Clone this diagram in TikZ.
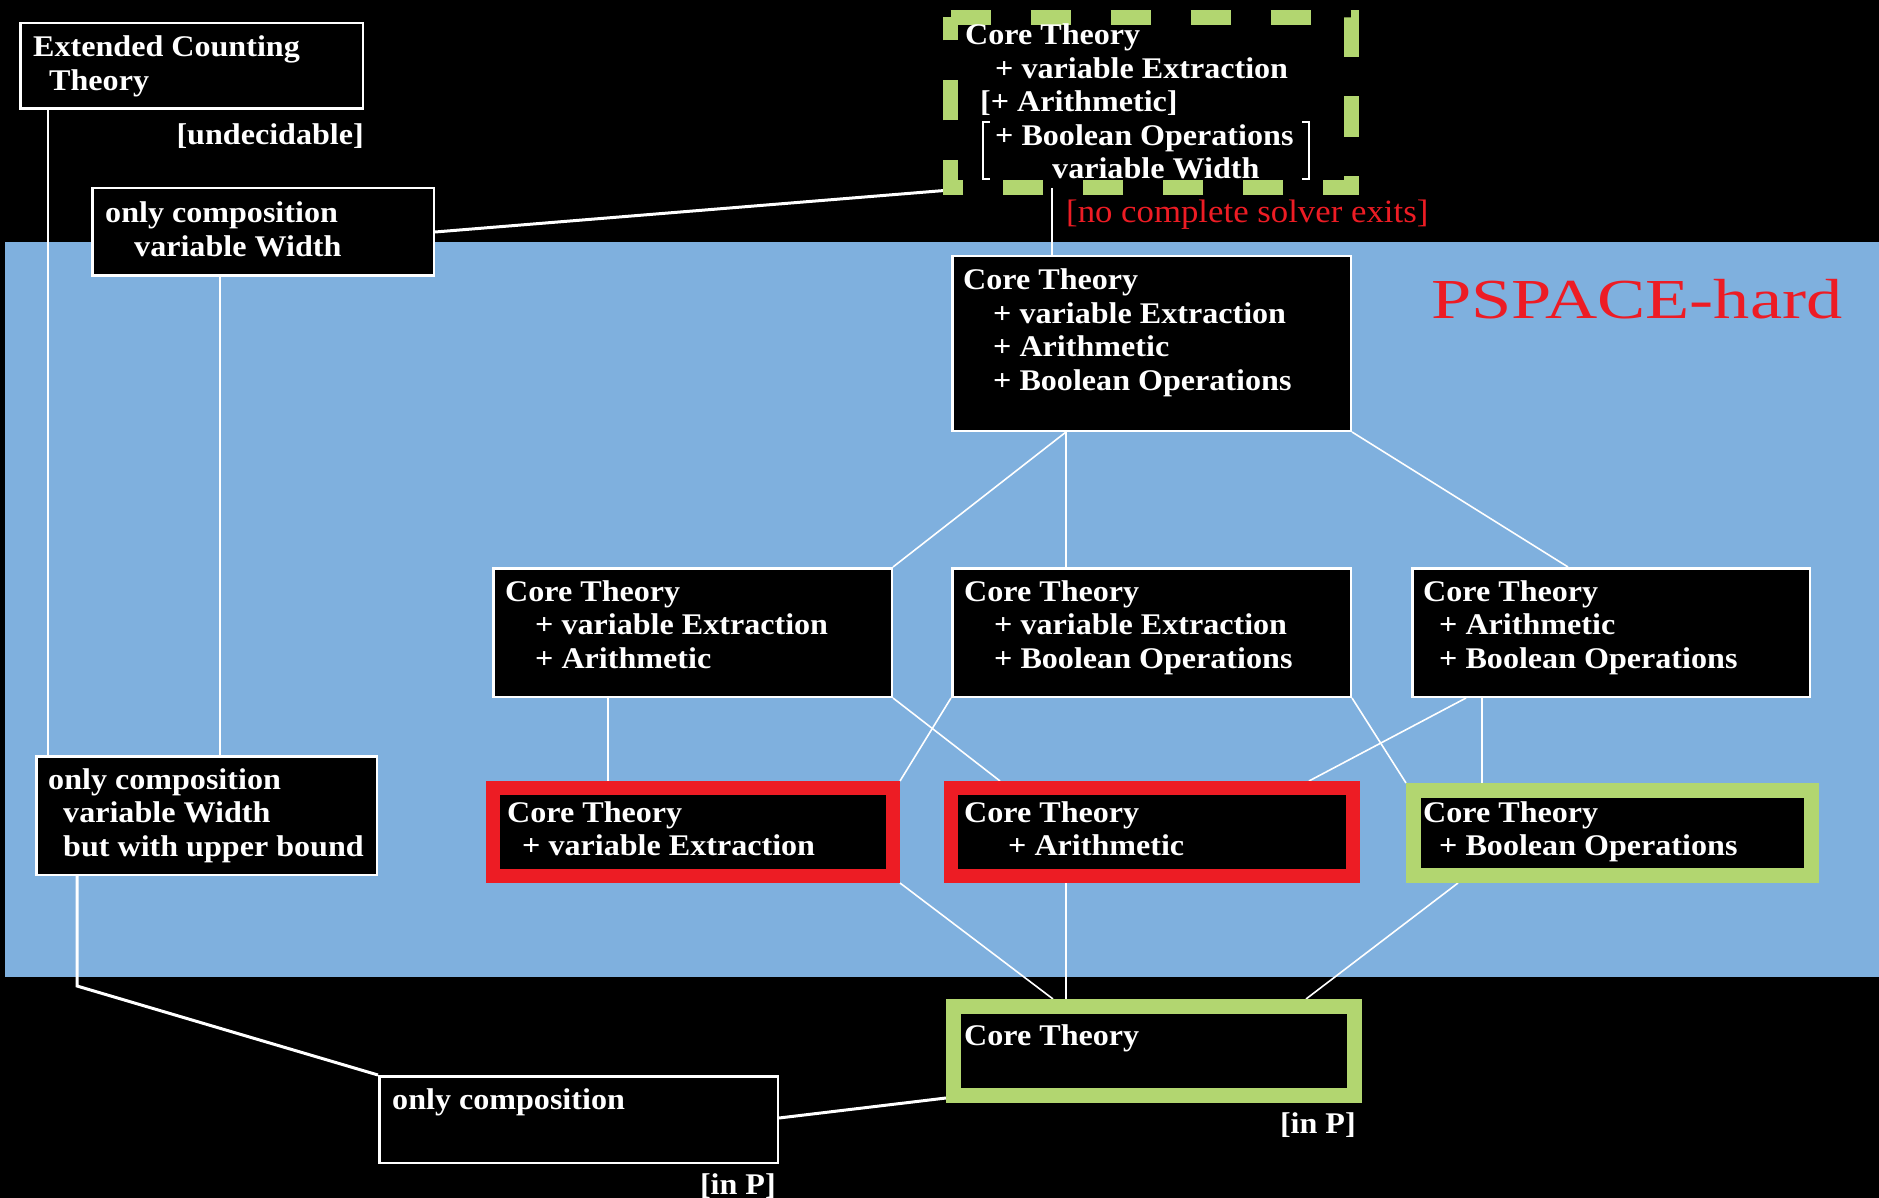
\documentclass[tikz,border=0pt]{standalone}
\usepackage{fontspec}
\setmainfont{Liberation Serif}[FakeStretch=1.07]
\newfontfamily\widefont{Liberation Serif}[FakeStretch=1.28]
\usetikzlibrary{calc}
\pgfdeclarelayer{bg}
\pgfsetlayers{bg,main}

\definecolor{hardblue}{RGB}{127,176,222}
\definecolor{boxred}{RGB}{237,28,36}
\definecolor{boxgreen}{RGB}{178,214,112}

% multi-line label whose reference point is the first baseline
\newcommand\stack[1]{\begin{tabular}[t]{@{}l@{}}#1\end{tabular}}
\newcommand\ind[1]{\hspace*{#1pt}}

\tikzset{
  plainbox/.style={rectangle, draw=white, line width=2.5pt, fill=black,
    anchor=north west, inner sep=0pt},
  redbox/.style={plainbox, draw=boxred, line width=14pt},
  greenbox/.style={plainbox, draw=boxgreen, line width=15pt},
  txt/.style={anchor=base west, inner sep=0pt, text=white,
    font=\bfseries\fontsize{30}{33.5}\selectfont},
  tag/.style={txt, anchor=base east},
  link/.style={draw=white, line width=1.6pt},
  heavylink/.style={draw=white, line width=3pt},
}

\begin{document}
\begin{tikzpicture}[x=1pt,y=-1pt]
\useasboundingbox (0,0) rectangle (1879,1198);

\begin{pgfonlayer}{bg}
  \fill[black] (0,0) rectangle (1879,1198);
  \fill[hardblue] (5,242) rectangle (1879,977);
\end{pgfonlayer}

\node[txt, text=boxred, font=\widefont\fontsize{56.5}{60}\selectfont] (hard) at (1431,319) {PSPACE-hard};

% undecidable part
\node[plainbox, minimum width=342.5pt, minimum height=85.5pt] (ect) at (19,22) {};
\node[txt] (ectT) at (33,57) {\stack{Extended Counting\\\ind{16}Theory}};
\node[tag] (undec) at (364,145) {[undecidable]};

\node[plainbox, minimum width=341.5pt, minimum height=87.5pt] (ocvw) at (91,187) {};
\node[txt] (ocvwT) at (105,223) {\stack{only composition\\\ind{29}variable Width}};

% full theory, dashed frame
\node[anchor=north west, minimum width=401pt, minimum height=170.5pt, inner sep=0pt, outer sep=0pt] (spec) at (950.5,17.5) {};
\draw[boxgreen, line width=15pt, dash pattern=on 40.5pt off 39.5pt]
  (spec.north west) -- (spec.north east) -- (spec.south east) -- (spec.south west) -- cycle;
\node[txt] (specT) at (965,45) {\stack{Core Theory\\\ind{30}+ variable Extraction\\\ind{15}[+ Arithmetic]\\\ind{30}+ Boolean Operations\\\ind{87}variable Width}};
\draw[white, line width=2.5pt] ([shift={(39.5,104.5)}]spec.north west) -- ++(-7,0) -- ++(0,57) -- ++(7,0);
\draw[white, line width=2.5pt] ([shift={(351.5,104.5)}]spec.north west) -- ++(7,0) -- ++(0,57) -- ++(-7,0);
\node[txt, font=\fontsize{32.5}{36}\selectfont, text=boxred] (nosolver) at (1066,223) {[no complete solver exits]};

% PSPACE-hard lattice
\node[plainbox, minimum width=398.5pt, minimum height=174.5pt] (top) at (951,255) {};
\node[txt] (topT) at (963,290) {\stack{Core Theory\\\ind{30}+ variable Extraction\\\ind{30}+ Arithmetic\\\ind{30}+ Boolean Operations}};

\node[plainbox, minimum width=398.5pt, minimum height=128.5pt] (A) at (492,567) {};
\node[txt] (AT) at (505,601) {\stack{Core Theory\\\ind{30}+ variable Extraction\\\ind{30}+ Arithmetic}};
\node[plainbox, minimum width=398.5pt, minimum height=128.5pt] (B) at (951,567) {};
\node[txt] (BT) at (964,601) {\stack{Core Theory\\\ind{30}+ variable Extraction\\\ind{30}+ Boolean Operations}};
\node[plainbox, minimum width=397.5pt, minimum height=128.5pt] (C) at (1411,567) {};
\node[txt] (CT) at (1423,601) {\stack{Core Theory\\\ind{16}+ Arithmetic\\\ind{16}+ Boolean Operations}};

\node[redbox, minimum width=400pt, minimum height=88pt] (D) at (486,781) {};
\node[txt] (DT) at (507,822) {\stack{Core Theory\\\ind{15}+ variable Extraction}};
\node[redbox, minimum width=402pt, minimum height=88pt] (E) at (944,781) {};
\node[txt] (ET) at (964,822) {\stack{Core Theory\\\ind{44}+ Arithmetic}};
\node[greenbox, minimum width=398pt, minimum height=85pt] (F) at (1406,783) {};
\node[txt] (FT) at (1423,822) {\stack{Core Theory\\\ind{16}+ Boolean Operations}};

\node[plainbox, minimum width=340.5pt, minimum height=118.5pt] (ocub) at (35,755) {};
\node[txt] (ocubT) at (48,789) {\stack{only composition\\\ind{15}variable Width\\\ind{15}but with upper bound}};

% polynomial part
\node[greenbox, minimum width=401pt, minimum height=89pt] (core) at (946,999) {};
\node[txt] (coreT) at (964,1045) {Core Theory};
\node[tag] (inP1) at (1356,1133) {[in P]};

\node[plainbox, minimum width=398.5pt, minimum height=86.5pt] (oc) at (378,1075) {};
\node[txt] (ocT) at (392,1109) {only composition};
\node[tag] (inP2) at (776,1194) {[in P]};

\coordinate (bend) at (77,986);

\begin{pgfonlayer}{bg}
  \draw[link] ([xshift=29pt]ect.south west) -- ([xshift=13pt]ocub.north west);
  \draw[link] ([xshift=129pt]ocvw.south west) -- ([xshift=185pt]ocub.north west);
  \draw[heavylink] (ocvw.east) -- ([yshift=-2pt]spec.south west);
  \draw[link] ([xshift=101.5pt]spec.south west) -- ([xshift=101pt]top.north west);
  \draw[heavylink] ([xshift=42pt]ocub.south west) -- (bend) -- (oc.north west);
  \draw[heavylink] ([yshift=1.5pt]oc.east) -- ([yshift=-47pt]core.west);

  \draw[link] ([xshift=115pt]top.south west) -- (A.north east);
  \draw[link] ([xshift=115pt]top.south west) -- ([xshift=115pt]B.north west);
  \draw[link] (top.south east) -- ([xshift=157pt]C.north west);

  \draw[link] ([xshift=116pt]A.south west) -- ([xshift=122pt]D.north west);
  \draw[link] (A.south east) -- ([xshift=56pt]E.north west);
  \draw[link] (B.south west) -- (D.north east);
  \draw[link] (B.south east) -- (F.north west);
  \draw[link] ([xshift=55pt]C.south west) -- ([xshift=-51pt]E.north east);
  \draw[link] ([xshift=71pt]C.south west) -- ([xshift=76pt]F.north west);

  \draw[link] (D.south east) -- ([xshift=107pt]core.north west);
  \draw[link] ([xshift=122pt]E.south west) -- ([xshift=120pt]core.north west);
  \draw[link] ([xshift=52pt]F.south west) -- ([xshift=-56pt]core.north east);
\end{pgfonlayer}
\end{tikzpicture}
\end{document}
